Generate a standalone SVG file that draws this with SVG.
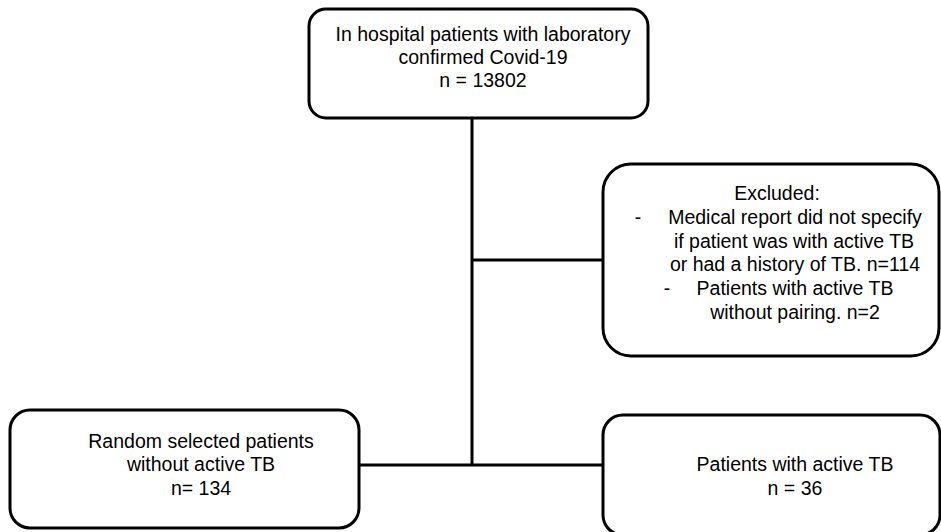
<svg xmlns="http://www.w3.org/2000/svg" width="941" height="532" viewBox="0 0 941 532">
<style>
.box{fill:#fff;stroke:#000;stroke-width:3}
.t{font-family:"Liberation Sans",Arial,sans-serif;font-size:19.5px;fill:#000;text-anchor:middle}
.c{stroke:#000;stroke-width:3;fill:none}
</style>
<rect width="941" height="532" fill="#fff"/>
<g id="connectors">
<line class="c" x1="472" y1="118" x2="472" y2="466"/>
<line class="c" x1="472" y1="260" x2="603" y2="260"/>
<line class="c" x1="359" y1="465" x2="603" y2="465"/>
</g>
<g id="top">
<rect class="box" x="309" y="9" width="339" height="109" rx="17"/>
<text class="t" x="483" y="41">In hospital patients with laboratory</text>
<text class="t" x="483" y="64">confirmed Covid-19</text>
<text class="t" x="483" y="87">n = 13802</text>
</g>
<g id="excluded">
<rect class="box" x="603" y="164" width="336" height="192" rx="28"/>
<text class="t" x="777" y="200">Excluded:</text>
<text class="t" x="638" y="224">-</text>
<text class="t" x="795" y="224">Medical report did not specify</text>
<text class="t" x="794" y="248">if patient was with active TB</text>
<text class="t" x="795" y="271">or had a history of TB. n=114</text>
<text class="t" x="667" y="295">-</text>
<text class="t" x="795" y="295">Patients with active TB</text>
<text class="t" x="795" y="319">without pairing. n=2</text>
</g>
<g id="control">
<rect class="box" x="10" y="410" width="349" height="118" rx="20"/>
<text class="t" x="201" y="448">Random selected patients</text>
<text class="t" x="201" y="471">without active TB</text>
<text class="t" x="201" y="495">n= 134</text>
</g>
<g id="tb">
<rect class="box" x="603" y="415" width="337" height="120" rx="20"/>
<text class="t" x="795" y="471">Patients with active TB</text>
<text class="t" x="795" y="495">n = 36</text>
</g>
</svg>
